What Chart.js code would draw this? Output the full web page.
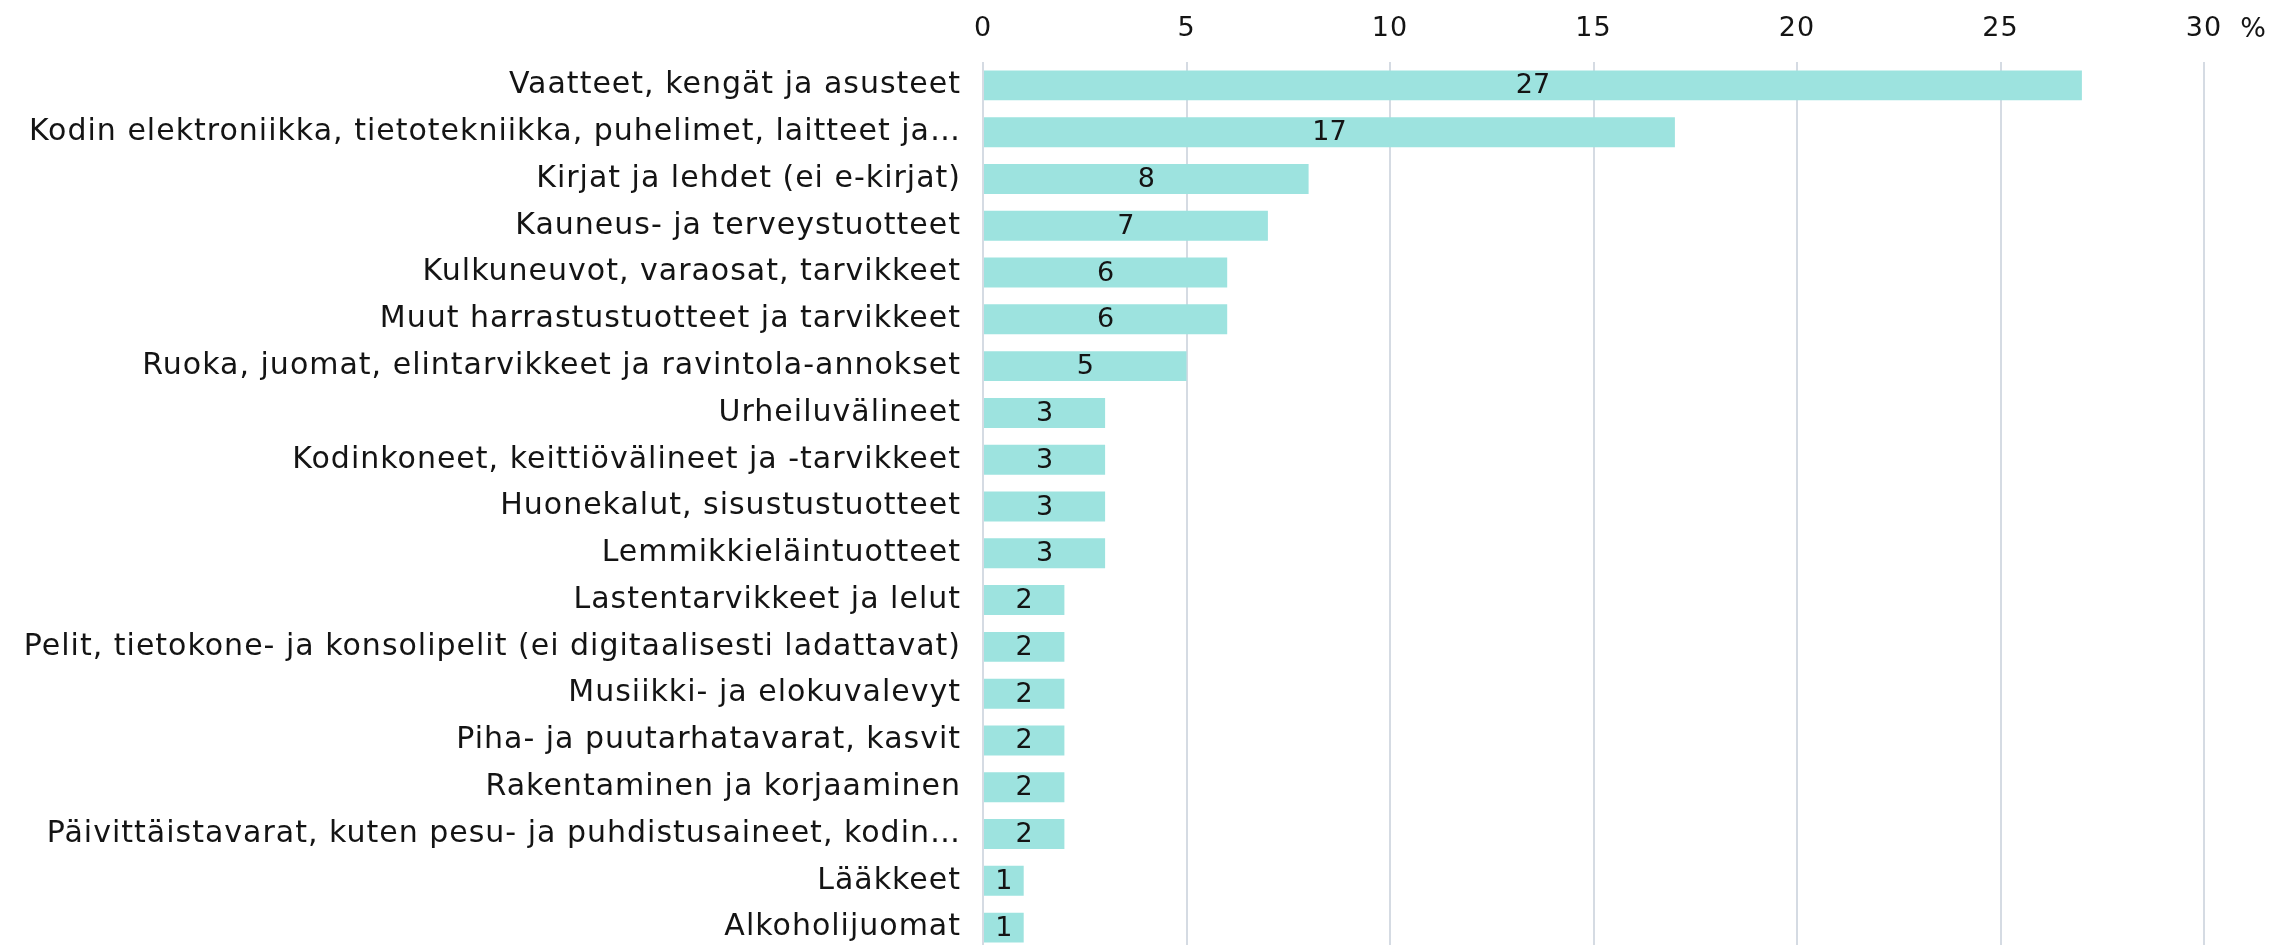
<!DOCTYPE html>
<html>
<head>
<meta charset="utf-8">
<script src="https://cdn.jsdelivr.net/npm/chart.js@4.4.1/dist/chart.umd.min.js"></script>
<style>
    html, body { margin: 0; padding: 0; background: #fff; overflow: hidden; }
</style>
</head>
<body>
<canvas id="chart" width="2272" height="951"></canvas>
<script>
// --- data ---
const categories = [
    'Vaatteet, kengät ja asusteet',
    'Kodin elektroniikka, tietotekniikka, puhelimet, laitteet ja…',
    'Kirjat ja lehdet (ei e-kirjat)',
    'Kauneus- ja terveystuotteet',
    'Kulkuneuvot, varaosat, tarvikkeet',
    'Muut harrastustuotteet ja tarvikkeet',
    'Ruoka, juomat, elintarvikkeet ja ravintola-annokset',
    'Urheiluvälineet',
    'Kodinkoneet, keittiövälineet ja -tarvikkeet',
    'Huonekalut, sisustustuotteet',
    'Lemmikkieläintuotteet',
    'Lastentarvikkeet ja lelut',
    'Pelit, tietokone- ja konsolipelit (ei digitaalisesti ladattavat)',
    'Musiikki- ja elokuvalevyt',
    'Piha- ja puutarhatavarat, kasvit',
    'Rakentaminen ja korjaaminen',
    'Päivittäistavarat, kuten pesu- ja puhdistusaineet, kodin…',
    'Lääkkeet',
    'Alkoholijuomat'
];
const shares = [27, 17, 8, 7, 6, 6, 5, 3, 3, 3, 3, 2, 2, 2, 2, 2, 2, 1, 1];
const xTicks = [0, 5, 10, 15, 20, 25, 30];
const unitLabel = '%';

const FONT = 'DejaVu Sans';
const TEXT = '#141414';

// a bit of tracking so the labels run as wide as the original typeface
const tracking = {
    id: 'tracking',
    beforeDraw(chart) { chart.ctx.letterSpacing = '1px'; }
};

// values written in the middle of each bar
const barValues = {
    id: 'barValues',
    afterDatasetsDraw(chart) {
        const ctx = chart.ctx;
        const meta = chart.getDatasetMeta(0);
        ctx.save();
        ctx.letterSpacing = '0px';
        ctx.font = '27px ' + FONT;
        ctx.fillStyle = TEXT;
        ctx.textAlign = 'center';
        ctx.textBaseline = 'middle';
        meta.data.forEach((bar, i) => {
            ctx.fillText(String(shares[i]), (bar.x + bar.base) / 2, bar.y + 1);
        });
        ctx.restore();
    }
};

// "%" next to the last tick
const unitMark = {
    id: 'unitMark',
    afterDraw(chart) {
        const x = chart.scales.x;
        const ctx = chart.ctx;
        ctx.save();
        ctx.letterSpacing = '0px';
        ctx.font = '27px ' + FONT;
        ctx.fillStyle = TEXT;
        ctx.textAlign = 'center';
        ctx.textBaseline = 'alphabetic';
        ctx.fillText(unitLabel, x.getPixelForValue(xTicks[xTicks.length - 1]) + 49, 37);
        ctx.restore();
    }
};

new Chart(document.getElementById('chart'), {
    type: 'bar',
    data: {
        labels: categories,
        datasets: [{
            data: shares,
            backgroundColor: '#9de3df',
            borderWidth: 0,
            categoryPercentage: 1,
            barPercentage: 0.64
        }]
    },
    options: {
        indexAxis: 'y',
        responsive: false,
        animation: false,
        layout: { padding: { left: 0, right: 68, top: 0, bottom: 0 } },
        plugins: { legend: { display: false }, tooltip: { enabled: false } },
        scales: {
            x: {
                position: 'top',
                min: 0, max: 30,
                afterBuildTicks: s => { s.ticks = xTicks.map(v => ({ value: v })); },
                afterFit: s => { s.height = 62; s.paddingLeft = 0; s.paddingRight = 0; },
                grid: { color: '#d5dbe3', lineWidth: 2, drawTicks: false },
                border: { display: false },
                ticks: { color: TEXT, font: { family: FONT, size: 27 }, padding: 17 }
            },
            y: {
                afterFit: s => { s.width = 983; s.paddingTop = 0; s.paddingBottom = 0; },
                grid: { display: false, drawTicks: false },
                border: { display: false },
                ticks: { color: TEXT, font: { family: FONT, size: 30 }, padding: 22, autoSkip: false }
            }
        }
    },
    plugins: [tracking, barValues, unitMark]
});
</script>
</body>
</html>
